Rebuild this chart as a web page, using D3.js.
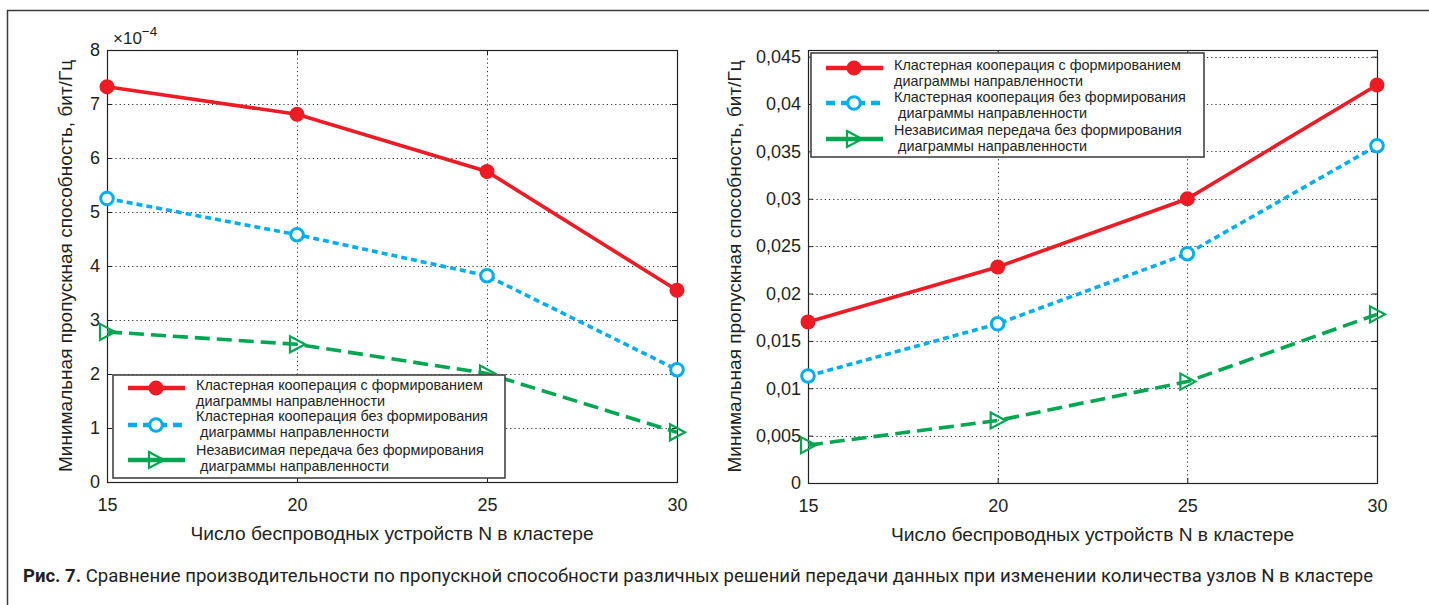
<!DOCTYPE html>
<html><head><meta charset="utf-8">
<script src="https://cdn.jsdelivr.net/npm/d3@7"></script>
<style>
html,body{margin:0;padding:0;background:#fff;}
svg{display:block;}
text{fill:#231f20;}
</style></head>
<body><svg id="c" width="1429" height="605" font-family="Liberation Sans, Arial, sans-serif"></svg>
<script>
// ---------- data ----------
const nValues = [15, 20, 25, 30];
const xTicks = [15, 20, 25, 30];
// left panel (units: bit/Hz)
const leftRed   = [7.32e-4, 6.81e-4, 5.75e-4, 3.55e-4];
const leftBlue  = [5.25e-4, 4.58e-4, 3.82e-4, 2.08e-4];
const leftGreen = [2.78e-4, 2.55e-4, 2.01e-4, 0.92e-4];
const leftYTicks = [0, 1e-4, 2e-4, 3e-4, 4e-4, 5e-4, 6e-4, 7e-4, 8e-4];
// right panel
const rightRed   = [0.0170, 0.0228, 0.0300, 0.0420];
const rightBlue  = [0.0113, 0.0168, 0.0242, 0.0356];
const rightGreen = [0.0040, 0.0066, 0.0107, 0.0178];
const rightYTicks = [0, 0.005, 0.01, 0.015, 0.02, 0.025, 0.03, 0.035, 0.04, 0.045];
const seriesNames = [
  ["Кластерная кооперация с формированием", "диаграммы направленности"],
  ["Кластерная кооперация без формирования", " диаграммы направленности"],
  ["Независимая передача без формирования", " диаграммы направленности"]
];
const yTitle = "Минимальная пропускная способность, бит/Гц";
const xTitle = "Число беспроводных устройств N в кластере";
const captionBold = "Рис. 7.";
const captionText = " Сравнение производительности по пропускной способности различных решений передачи данных при изменении количества узлов N в кластере";

// ---------- styles ----------
const RED = "#ed1c24", BLUE = "#00aeef", GREEN = "#00a651";
const styles = [
  {color: RED, dash: null, legendDash: null, marker: "dot"},
  {color: BLUE, dash: "6,4", legendDash: "9,6", marker: "circle"},
  {color: GREEN, dash: "15,7", legendDash: null, marker: "tri"}
];

const svg = d3.select("#c");

// outer frame
svg.append("path").attr("d", "M7.5,700 L7.5,10.5 L1440,10.5")
  .attr("fill", "none").attr("stroke", "#3a3a3a").attr("stroke-width", 1.5);

function fmtComma(v){ return String(+v.toFixed(4)).replace(".", ","); }

function drawMarker(g, type, cx, cy, color){
  if (type === "dot") {
    g.append("circle").attr("cx", cx).attr("cy", cy).attr("r", 7.5).attr("fill", color);
  } else if (type === "circle") {
    g.append("circle").attr("cx", cx).attr("cy", cy).attr("r", 6.3)
      .attr("fill", "#fff").attr("stroke", color).attr("stroke-width", 3);
  } else {
    g.append("path").attr("d", `M${cx-7},${cy-8} L${cx+8},${cy} L${cx-7},${cy+8} Z`)
      .attr("fill", "none").attr("stroke", color).attr("stroke-width", 2.2)
      .attr("stroke-linejoin", "miter");
  }
}

function panel(opts){
  const {x0, x1, y0, y1, yMax, yTicks, fmt, series, legend} = opts;
  const x = d3.scaleLinear().domain([15, 30]).range([x0, x1]);
  const y = d3.scaleLinear().domain([0, yMax]).range([y1, y0]);
  const g = svg.append("g");

  // grid
  const grid = g.append("g").attr("stroke", "#333").attr("stroke-width", 1)
    .attr("stroke-dasharray", "1.2,3");
  yTicks.filter(t => t > 0 && y(t) > y0 + 1).forEach(t => {
    grid.append("line").attr("x1", x0).attr("x2", x1).attr("y1", Math.round(y(t))+0.5).attr("y2", Math.round(y(t))+0.5);
  });
  xTicks.slice(1, -1).forEach(t => {
    grid.append("line").attr("y1", y0).attr("y2", y1).attr("x1", Math.round(x(t))+0.5).attr("x2", Math.round(x(t))+0.5);
  });

  // axes
  const axL = g.append("g").attr("transform", `translate(${x0},0)`)
    .call(d3.axisLeft(y).tickValues(yTicks).tickFormat(fmt).tickSize(-5).tickPadding(7));
  const axR = g.append("g").attr("transform", `translate(${x1},0)`)
    .call(d3.axisRight(y).tickValues(yTicks).tickFormat("").tickSize(-5));
  const axB = g.append("g").attr("transform", `translate(0,${y1})`)
    .call(d3.axisBottom(x).tickValues(xTicks).tickFormat(d3.format("d")).tickSize(-5).tickPadding(16));
  const axT = g.append("g").attr("transform", `translate(0,${y0})`)
    .call(d3.axisTop(x).tickValues(xTicks).tickFormat("").tickSize(-5));
  [axL, axR, axB, axT].forEach(a => {
    a.select(".domain").remove();
    a.selectAll("line").attr("stroke", "#222");
    a.selectAll("text").attr("font-size", 18).attr("fill", "#231f20")
      .attr("font-family", "Liberation Sans, Arial, sans-serif");
  });
  g.append("rect").attr("x", x0+0.5).attr("y", y0+0.5).attr("width", x1-x0).attr("height", y1-y0)
    .attr("fill", "none").attr("stroke", "#222").attr("stroke-width", 1.2);

  // series
  series.forEach((vals, i) => {
    const st = styles[i];
    const line = d3.line().x((d, j) => x(nValues[j])).y(d => y(d));
    g.append("path").datum(vals).attr("d", line).attr("fill", "none")
      .attr("stroke", st.color).attr("stroke-width", 3.6)
      .attr("stroke-dasharray", st.dash);
    const mg = g.append("g");
    vals.forEach((v, j) => drawMarker(mg, st.marker, x(nValues[j]), y(v), st.color));
  });

  // titles
  g.append("text").attr("x", (x0 + x1) / 2).attr("y", y1 + 58).attr("text-anchor", "middle")
    .attr("font-size", 19.2).text(xTitle);
  g.append("text").attr("transform", `translate(${opts.yTitleX},${(y0 + y1) / 2}) rotate(-90)`)
    .attr("text-anchor", "middle").attr("font-size", 19).text(yTitle);

  // legend
  const L = legend;
  const lg = g.append("g");
  lg.append("rect").attr("x", L.x).attr("y", L.y).attr("width", L.w).attr("height", L.h)
    .attr("fill", "#fff").attr("stroke", "#444").attr("stroke-width", 1.6);
  series.forEach((vals, i) => {
    const st = styles[i];
    const cy = L.y + L.rows[i];
    lg.append("line").attr("x1", L.x + 15).attr("x2", L.x + 72).attr("y1", cy).attr("y2", cy)
      .attr("stroke", st.color).attr("stroke-width", 4.5).attr("stroke-dasharray", st.legendDash);
    drawMarker(lg, st.marker, L.x + 43, cy, st.color);
    const ty = L.y + L.textRows[i];
    const t = lg.append("text").attr("y", ty).attr("font-size", 14.4);
    t.append("tspan").attr("x", L.x + 83).text(seriesNames[i][0]);
    t.append("tspan").attr("x", L.x + 83).attr("dy", 16).text(seriesNames[i][1]);
  });
  return g;
}

const left = panel({
  x0: 107, x1: 677, y0: 50, y1: 482, yMax: 8e-4, yTicks: leftYTicks,
  fmt: d => String(Math.round(d * 1e4)), series: [leftRed, leftBlue, leftGreen],
  yTitleX: 72,
  legend: {x: 113, y: 375, w: 392, h: 103, rows: [13, 50, 85], textRows: [15, 46, 80]}
});
// exponent label
const ex = svg.append("text").attr("x", 113).attr("y", 44).attr("font-size", 17);
ex.append("tspan").text("×10");
ex.append("tspan").attr("dy", -8).attr("font-size", 13.5).text("−4");

const right = panel({
  x0: 808, x1: 1377, y0: 50, y1: 483, yMax: 0.0457, yTicks: rightYTicks,
  fmt: fmtComma, series: [rightRed, rightBlue, rightGreen],
  yTitleX: 741,
  legend: {x: 811, y: 53, w: 393, h: 104, rows: [15, 50, 86], textRows: [17, 49, 82]}
});

// caption
const cap = svg.append("text").attr("x", 23).attr("y", 582)
  .style("font-family", "Roboto, 'Noto Sans', sans-serif").attr("font-size", 17.5);
cap.append("tspan").attr("font-weight", "bold").text(captionBold);
cap.append("tspan").text(captionText);
const capW = cap.node().getComputedTextLength();
if (capW > 0) cap.attr("textLength", 1350).attr("lengthAdjust", "spacingAndGlyphs");
</script></body></html>
